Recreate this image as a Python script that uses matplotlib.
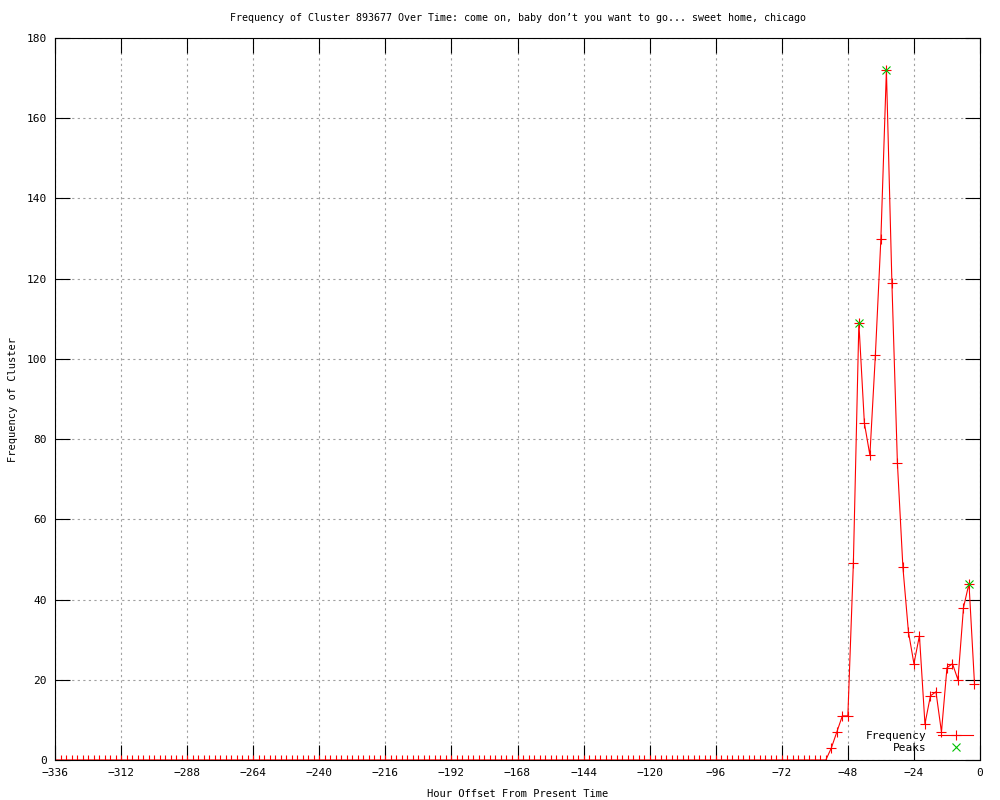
import matplotlib
matplotlib.use("Agg")
import matplotlib.pyplot as plt
import numpy as np

# hour offsets, every 2 hours from -336 to -2
hours = np.arange(-336, 0, 2)
# non-zero tail of the series, hours -54 .. -2
tail = [3, 7, 11, 11, 49, 109, 84, 76, 101, 130, 172, 119, 74, 48,
        32, 24, 31, 9, 16, 17, 7, 23, 24, 20, 38, 44, 19]
freq = np.zeros(len(hours))
freq[-len(tail):] = tail

peak_hours = [-44, -34, -4]
peak_vals = [109, 172, 44]

title = ("Frequency of Cluster 893677 Over Time: come on, baby don\u2019t you "
         "want to go... sweet home, chicago")

plt.rcParams["font.family"] = ["DejaVu Sans Mono"]
plt.rcParams["font.size"] = 8
plt.rcParams["axes.unicode_minus"] = True

fig = plt.figure(figsize=(10, 8), dpi=100)
ax = fig.add_axes([0.055, 0.05, 0.925, 0.9025])

ax.plot(hours, freq, color="red", linewidth=0.8, marker="+",
        markersize=6.5, markeredgewidth=0.8, label="Frequency")
ax.plot(peak_hours, peak_vals, linestyle="none", color="#00c000",
        marker="x", markersize=5.5, markeredgewidth=0.8, label="Peaks")

ax.set_xlim(-336, 0)
ax.set_ylim(0, 180)
ax.set_xticks(np.arange(-336, 1, 24))
ax.set_yticks(np.arange(0, 181, 20))
ax.tick_params(direction="in", length=11, width=0.8, top=True, right=True,
               labelsize=8, pad=6)
for s in ax.spines.values():
    s.set_linewidth(0.8)
ax.grid(True, color="#a0a0a0", linestyle=(0, (2, 3)), linewidth=0.8)
ax.set_axisbelow(True)

ax.set_title(title, fontsize=7.2, pad=12)
ax.set_xlabel("Hour Offset From Present Time", fontsize=7.5, labelpad=8)
ax.set_ylabel("Frequency of Cluster", fontsize=7.5, labelpad=6)

ax.legend(loc="lower right", frameon=False, markerfirst=False,
          fontsize=8, handlelength=3.2, borderaxespad=0.2,
          labelspacing=0.25, handletextpad=1.0)

fig.savefig("out.png", dpi=100, facecolor="white")
